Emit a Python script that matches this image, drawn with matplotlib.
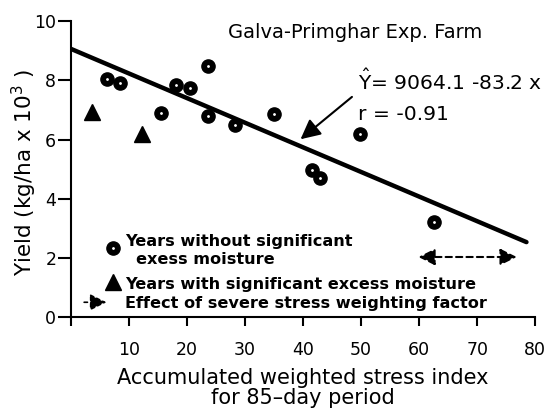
import numpy as np
import matplotlib.pyplot as plt

plt.rcParams['font.family'] = ['DejaVu Sans']

# years without significant excess moisture
dry_x = [6.3, 8.5, 15.5, 18.1, 20.5, 23.7, 23.7, 28.3, 35.0, 41.6, 43.0, 49.9, 62.5]
dry_y = [8.03, 7.9, 6.9, 7.84, 7.73, 8.48, 6.8, 6.5, 6.85, 4.97, 4.7, 6.2, 3.22]

# years with significant excess moisture
wet_x = [3.7, 12.3]
wet_y = [6.93, 6.2]

# regression Y = 9064.1 - 83.2 x  (kg/ha), plotted in kg/ha x 10^3
intercept = 9064.1
slope = -83.2
fit_x = np.array([0.0, 78.5])

xticks = [10, 20, 30, 40, 50, 60, 70, 80]
yticks = [0, 2, 4, 6, 8, 10]

fig = plt.figure(figsize=(5.54, 4.15), dpi=100)
ax = fig.add_axes([0.128, 0.236, 0.838, 0.713])

ax.plot(fit_x, (intercept + slope * fit_x) / 1000.0, color='black', lw=3.2,
        solid_capstyle='round', zorder=2)

ax.plot(dry_x, dry_y, 'o', color='black', ms=9.5, zorder=3)
ax.plot(dry_x, dry_y, 'o', color='white', ms=1.0, zorder=4)
ax.plot(wet_x, wet_y, '^', color='black', ms=12, zorder=3)

ax.set_xlim(0, 80)
ax.set_ylim(0, 10)
ax.spines['top'].set_visible(False)
ax.spines['right'].set_visible(False)
ax.spines['left'].set_linewidth(1.5)
ax.spines['bottom'].set_linewidth(1.5)
ax.set_xticks([0] + xticks)
ax.set_xticklabels([''] + [str(t) for t in xticks])
ax.set_yticks(yticks)
ax.tick_params(axis='x', length=6.5, width=1.5, pad=11, labelsize=12.5)
ax.tick_params(axis='y', length=9.5, width=1.5, pad=1, labelsize=12.5)

ax.set_xlabel('Accumulated weighted stress index\nfor 85\u2013day period',
              fontsize=15, linespacing=1.0, labelpad=6)
ax.set_ylabel('Yield (kg/ha x 10$^3$ )', fontsize=15.5, va='center')
ax.yaxis.set_label_coords(-0.1, 0.49)

ax.text(49, 9.63, 'Galva-Primghar Exp. Farm', fontsize=14, ha='center', va='center')
ax.text(49.5, 7.95, r'$\hat{\mathrm{Y}}$= 9064.1 -83.2 x', fontsize=14.6, ha='left', va='center')
ax.text(49.5, 6.85, 'r = -0.91', fontsize=14.6, ha='left', va='center')
ax.annotate('', xy=(39.2, 5.95), xytext=(48.8, 7.5),
            arrowprops=dict(arrowstyle='-|>,head_length=1.2,head_width=0.6',
                            color='black', lw=1.5))

# in-plot key
ax.plot([7.2], [2.33], 'o', color='black', ms=9.5, clip_on=False)
ax.plot([7.2], [2.33], 'o', color='white', ms=1.0, clip_on=False)
ax.text(9.3, 2.55, 'Years without significant', fontsize=11.6, fontweight='bold',
        ha='left', va='center')
ax.text(11.3, 1.96, 'exess moisture', fontsize=11.6, fontweight='bold',
        ha='left', va='center')
ax.plot([7.3], [1.2], '^', color='black', ms=12, clip_on=False)
ax.text(9.3, 1.1, 'Years with significant excess moisture', fontsize=11.6,
        fontweight='bold', ha='left', va='center')
ax.annotate('', xy=(6.6, 0.5), xytext=(1.8, 0.5),
            arrowprops=dict(arrowstyle='-|>,head_length=1.0,head_width=0.5',
                            color='black', lw=1.2, linestyle=(0, (2, 2))))
ax.text(9.3, 0.47, 'Effect of severe stress weighting factor', fontsize=11.6,
        fontweight='bold', ha='left', va='center')

# double-headed dashed arrow
ax.annotate('', xy=(59.4, 2.03), xytext=(77.3, 2.03),
            arrowprops=dict(arrowstyle='<|-|>,head_length=1.0,head_width=0.5',
                            color='black', lw=1.5, linestyle=(0, (3, 2))))

fig.savefig('out.png', dpi=100)
